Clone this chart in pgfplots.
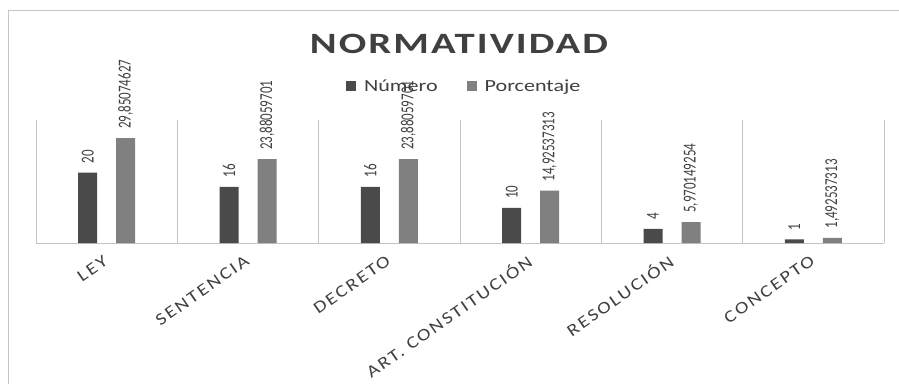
\documentclass[border=0pt]{standalone}
\usepackage{pgfplots}
\pgfplotsset{compat=1.18}
\usepackage{pgfplotstable}
\usepackage{fontspec}
\setmainfont{Carlito}
\newfontfamily\titlefont[FakeStretch=1.38,LetterSpace=7]{Carlito}
\newfontfamily\legfont[FakeStretch=1.3]{Carlito}
\newfontfamily\tickfont[FakeStretch=1.2,LetterSpace=12]{Carlito}
\newfontfamily\datafont{Carlito}
\definecolor{darkbar}{HTML}{4A4A4A}
\definecolor{lightbar}{HTML}{808080}
\definecolor{gridc}{HTML}{C4C4C4}
\definecolor{txt}{HTML}{404040}

\pgfplotstableread{
x y label
0 20 20
1 16 16
2 16 16
3 10 10
4 4 4
5 1 1
}\numtab

\pgfplotstableread{
x y label
0 29.85074627 29,85074627
1 23.88059701 23,88059701
2 23.88059701 23,88059701
3 14.92537313 14,92537313
4 5.970149254 5,970149254
5 1.492537313 1,492537313
}\pcttab

\begin{document}
\begin{tikzpicture}[x=1pt,y=1pt]
\path[use as bounding box] (0,0) rectangle (899,384);
\draw[gridc, line width=1pt] (8,0) -- (8,373) -- (899,373);
\node[font=\titlefont\bfseries\fontsize{29.5}{30}\selectfont, text=txt] at (459,340) {NORMATIVIDAD};
\begin{axis}[
  at={(36pt,141pt)}, anchor=south west,
  scale only axis, width=848pt, height=123pt,
  xmin=-0.5, xmax=5.5, ymin=0, ymax=35,
  ybar=19pt, bar width=19pt,
  axis x line*=bottom, axis y line=none,
  x axis line style={gridc, line width=1pt},
  xtick={0,...,5},
  xticklabels={LEY,SENTENCIA,DECRETO,ART. CONSTITUCIÓN,RESOLUCIÓN,CONCEPTO},
  major tick length=0pt,
  xticklabel style={xshift=2pt, yshift=-14pt, rotate=35, anchor=east, text=txt,
    font=\tickfont\fontsize{17}{18}\selectfont},
  extra x ticks={-0.5,0.5,1.5,2.5,3.5,4.5,5.5},
  extra x tick labels={},
  extra x tick style={grid=major, major grid style={gridc, line width=1pt}},
  ytick=\empty,
  clip=false,
  nodes near coords={\scalebox{1}[1.4]{\pgfplotspointmeta}},
  point meta=explicit symbolic,
  every node near coord/.append style={rotate=90, anchor=west, inner xsep=9pt, inner ysep=0pt,
    text=txt, font=\datafont\fontsize{13}{14}\selectfont},
  legend style={at={(0.505,1.276)}, anchor=center, draw=none, fill=none,
    legend columns=-1, font=\legfont\fontsize{17}{18}\selectfont, text=txt,
    /tikz/every even column/.append style={column sep=27pt}},
  mylegend/.style={legend image code/.code={\path[##1, draw=none] (0pt,-5pt) rectangle (10pt,5pt); \path (16pt,0pt);}},
]
\addplot[fill=darkbar, draw=none, mylegend] table[x=x, y=y, meta=label] {\numtab};
\addplot[fill=lightbar, draw=none, mylegend] table[x=x, y=y, meta=label] {\pcttab};
\legend{Número, Porcentaje}
\end{axis}
\end{tikzpicture}
\end{document}
